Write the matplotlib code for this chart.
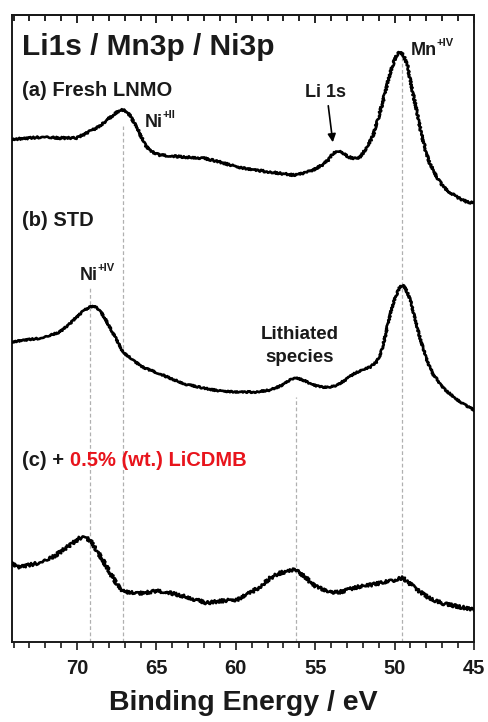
import matplotlib
matplotlib.use("Agg")
import matplotlib.pyplot as plt

plt.rcParams["font.family"] = ["Liberation Sans", "DejaVu Sans"]
plt.rcParams["font.weight"] = "bold"

# stacked XPS spectra, binding energy (eV) vs intensity (a.u., offsets included)
BE_A = [74.13, 73.82, 73.0, 72.18, 71.1, 70.03, 69.02, 68.58, 68.13, 67.63, 67.31, 67.12,
        66.81, 66.24, 65.93, 65.61, 65.23, 64.79, 64.16, 63.21, 62.07, 61.0, 59.93, 58.79,
        57.84, 56.9, 56.39, 55.63, 55.13, 54.56, 54.18, 53.87, 53.55, 53.24, 52.92, 52.6,
        52.29, 52.04, 51.72, 51.34, 51.03, 50.71, 50.4, 50.08, 49.83, 49.64, 49.45, 49.2,
        49.01, 48.69, 48.37, 48.06, 47.74, 47.3, 46.92, 46.48, 45.85, 45.41, 45.0]
I_A = [503, 503, 504, 505, 504, 504, 512, 516, 522, 528, 532, 532,
       530, 515, 504, 495, 490, 487, 486, 485, 484, 480, 475, 472,
       470, 468, 467, 469, 472, 477, 482, 489, 491, 489, 485, 484,
       483, 488, 495, 507, 524, 542, 562, 579, 588, 590, 587, 577,
       562, 537, 512, 492, 477, 464, 455, 449, 443, 440, 439]

BE_B = [74.13, 73.31, 72.18, 71.1, 70.47, 70.03, 69.52, 69.21, 68.89, 68.58, 68.26, 67.95,
        67.5, 67.12, 66.49, 65.86, 65.1, 64.16, 63.21, 62.07, 61.0, 59.93, 58.79, 57.84,
        57.21, 56.58, 56.14, 55.63, 55.13, 54.56, 54.06, 53.61, 53.11, 52.6, 52.04, 51.53,
        51.15, 50.9, 50.65, 50.46, 50.21, 49.95, 49.7, 49.51, 49.32, 49.01, 48.69, 48.37,
        47.93, 47.55, 46.92, 46.29, 45.66, 45.0]
I_B = [300, 302, 304, 310, 318, 325, 332, 335, 336, 332, 324, 315,
       302, 290, 282, 275, 270, 264, 258, 254, 251, 250, 250, 252,
       256, 262, 264, 261, 257, 255, 255, 257, 262, 268, 272, 275,
       280, 287, 302, 315, 332, 345, 354, 357, 354, 342, 322, 302,
       280, 267, 254, 245, 238, 232]

BE_C = [74.13, 73.75, 73.0, 72.18, 71.42, 70.79, 70.34, 69.84, 69.4, 69.08, 68.77, 68.39,
        67.95, 67.5, 67.12, 66.49, 65.86, 65.1, 64.47, 63.84, 63.08, 62.26, 61.82, 61.0,
        59.93, 59.3, 58.79, 58.35, 57.84, 57.21, 56.71, 56.39, 56.08, 55.63, 55.13, 54.69,
        54.06, 53.43, 52.6, 52.04, 51.53, 50.9, 50.27, 49.83, 49.51, 49.2, 48.82, 48.37,
        47.93, 47.43, 46.8, 46.17, 45.53, 45.0]
I_C = [80, 75, 77, 80, 86, 93, 98, 104, 104, 100, 92, 82,
       70, 58, 51, 49, 49, 51, 50, 48, 45, 41, 39, 41,
       42, 48, 52, 57, 64, 69, 71, 72, 70, 65, 57, 54,
       50, 50, 54, 56, 57, 59, 61, 63, 64, 61, 55, 50,
       45, 41, 38, 36, 34, 32]

# reference positions (eV) and where each guide line starts
GUIDES_BE = [69.2, 67.1, 56.2, 49.55]
GUIDES_TOP = [354, 516, 245, 589]

RED = "#e8141c"
INK = "#1a1a1a"
LAB = 14.5

fig = plt.figure(figsize=(4.89, 7.22), dpi=100)
ax = fig.add_axes([0.0245, 0.1108, 0.9448, 0.8684])

ax.vlines(GUIDES_BE, 0, GUIDES_TOP, colors="#b0b0b0", linestyles=(0, (3, 2)), lw=0.9, zorder=1)

for be, inten, jitter in [(BE_A, I_A, 1.0), (BE_B, I_B, 0.8), (BE_C, I_C, 1.6)]:
    ln, = ax.plot(be, inten, color="black", lw=1.9, zorder=3, solid_joinstyle="round")
    ln.set_sketch_params(scale=jitter, length=2.0, randomness=2.0)

ax.set_xlim(74.1, 45)
ax.set_ylim(0, 627)
ax.set_yticks([])
ax.set_xticks([70, 65, 60, 55, 50, 45])
ax.set_xticks(range(45, 75), minor=True)
ax.tick_params(axis="x", which="both", direction="out", top=False, width=1.2,
               labelsize=LAB, pad=6, colors=INK)
ax.tick_params(axis="x", which="major", length=6)
ax.tick_params(axis="x", which="minor", length=4)
for lab in ax.get_xticklabels():
    lab.set_fontweight("bold")
top = ax.secondary_xaxis("top")
top.set_xticks([70, 65, 60, 55, 50, 45])
top.set_xticks(range(45, 75), minor=True)
top.tick_params(axis="x", which="both", direction="in", width=1.2, labeltop=False)
top.tick_params(axis="x", which="major", length=6)
top.tick_params(axis="x", which="minor", length=4)
top.spines["top"].set_linewidth(1.4)
for sp in ax.spines.values():
    sp.set_linewidth(1.4)
    sp.set_color(INK)

ax.set_xlabel("Binding Energy / eV", fontsize=20.5, fontweight="bold", color=INK, labelpad=9)

ax.text(73.45, 595, "Li1s / Mn3p / Ni3p", fontsize=21.5, fontweight="bold", color=INK, va="center")
ax.text(73.45, 552, "(a) Fresh LNMO", fontsize=LAB, fontweight="bold", color=INK, va="center")
ax.text(73.45, 422, "(b) STD", fontsize=LAB, fontweight="bold", color=INK, va="center")
lab_c = ax.text(73.45, 182, "(c) + ", fontsize=LAB, fontweight="bold", color=INK, va="center")
ax.annotate("0.5% (wt.) LiCDMB", xy=(1, 0), xycoords=lab_c, va="bottom", ha="left",
            fontsize=LAB, fontweight="bold", color=RED)


def species(x, y, base, sup, size=13):
    t = ax.text(x, y, base, fontsize=size, fontweight="bold", color=INK, va="center")
    ax.annotate(sup, xy=(1, 0.62), xycoords=t, va="bottom", ha="left",
                fontsize=8, fontweight="bold", color=INK)


species(65.75, 520, "Ni", "+II")
species(49.0, 592, "Mn", "+IV")
species(69.85, 367, "Ni", "+IV")

ax.text(54.37, 550, "Li 1s", fontsize=13, fontweight="bold", color=INK, ha="center", va="center")
ax.annotate("", xy=(53.87, 497), xytext=(54.2, 539),
            arrowprops=dict(arrowstyle="-|>", color="black", lw=1.2, mutation_scale=12))
ax.text(55.95, 296, "Lithiated\nspecies", fontsize=13.5, fontweight="bold", color=INK,
        ha="center", va="center", linespacing=1.4)

fig.savefig("out.png", dpi=100)
